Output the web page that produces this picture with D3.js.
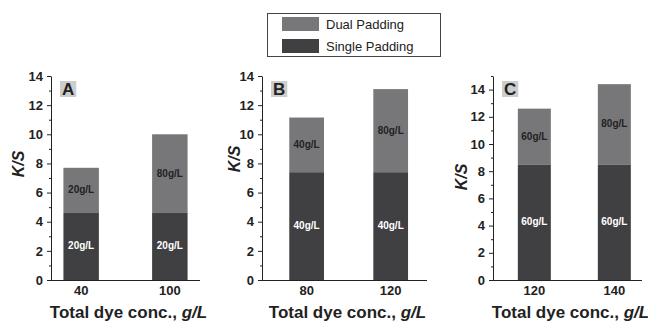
<!DOCTYPE html>
<html>
<head>
<meta charset="utf-8">
<script src="https://cdn.jsdelivr.net/npm/d3@7"></script>
<style>
  body { margin: 0; background: #fff; }
  svg { display: block; font-family: "Liberation Sans", Arial, sans-serif; }
</style>
</head>
<body>
<svg width="648" height="323"></svg>
<script>
// data
const panelNames = ["A", "B", "C"];
const categories = [["40", "100"], ["80", "120"], ["120", "140"]];
const singleValues = [[4.6, 4.6], [7.4, 7.4], [8.5, 8.5]];
const dualValues = [[3.1, 5.4], [3.75, 5.7], [4.1, 5.9]];
const singleLabels = [["20g/L", "20g/L"], ["40g/L", "40g/L"], ["60g/L", "60g/L"]];
const dualLabels = [["20g/L", "80g/L"], ["40g/L", "80g/L"], ["60g/L", "80g/L"]];
const yMax = [14, 14, 15];
const seriesNames = ["Dual Padding", "Single Padding"];

const colors = { dual: "#77777a", single: "#404043" };

// panel layout
const layout = [
  { left: 51, right: 200, pi: 0.6, po: 0.14, align: 0.5, ky: 164, kx: 19 },
  { left: 262, right: 427, pi: 0.587, po: 0.275, align: 0.59, ky: 159, kx: 235 },
  { left: 493, right: 642, pi: 0.5875, po: 0.225, align: 0.69, ky: 177, kx: 462 }
];
const plotTop = 76, plotBottom = 280;

const svg = d3.select("svg");

panelNames.forEach((name, i) => {
  const L = layout[i];
  const g = svg.append("g");

  const x = d3.scaleBand()
    .domain(categories[i])
    .range([L.left, L.right])
    .paddingInner(L.pi)
    .paddingOuter(L.po)
    .align(L.align);

  const y = d3.scaleLinear()
    .domain([0, yMax[i]])
    .range([plotBottom, plotTop]);

  const rows = categories[i].map((c, j) => ({
    cat: c,
    single: singleValues[i][j],
    dual: dualValues[i][j],
    sLabel: singleLabels[i][j],
    dLabel: dualLabels[i][j]
  }));

  // bars
  g.selectAll(".single")
    .data(rows)
    .join("rect")
    .attr("class", "single")
    .attr("x", d => x(d.cat))
    .attr("width", x.bandwidth())
    .attr("y", d => y(d.single))
    .attr("height", d => y(0) - y(d.single))
    .attr("fill", colors.single);

  g.selectAll(".dual")
    .data(rows)
    .join("rect")
    .attr("class", "dual")
    .attr("x", d => x(d.cat))
    .attr("width", x.bandwidth())
    .attr("y", d => y(d.single + d.dual))
    .attr("height", d => y(d.single) - y(d.single + d.dual))
    .attr("fill", colors.dual);

  // segment labels
  g.selectAll(".slab")
    .data(rows)
    .join("text")
    .attr("class", "slab")
    .attr("x", d => x(d.cat) + x.bandwidth() / 2)
    .attr("y", d => y(d.single / 2) + 3)
    .attr("text-anchor", "middle")
    .attr("font-size", 10)
    .attr("font-weight", "bold")
    .attr("fill", "#fff")
    .text(d => d.sLabel);

  g.selectAll(".dlab")
    .data(rows)
    .join("text")
    .attr("class", "dlab")
    .attr("x", d => x(d.cat) + x.bandwidth() / 2)
    .attr("y", d => y(d.single + d.dual / 2) + 3)
    .attr("text-anchor", "middle")
    .attr("font-size", 10)
    .attr("font-weight", "bold")
    .attr("fill", "#222")
    .text(d => d.dLabel);

  // y axis: minor ticks, then major
  const minor = d3.range(1, yMax[i] + 1, 2);
  const major = d3.range(0, yMax[i] + 1, 2);

  g.append("g")
    .attr("transform", `translate(${L.left},0)`)
    .call(d3.axisLeft(y).tickValues(minor).tickSize(2).tickFormat(""))
    .call(a => a.select(".domain").remove())
    .selectAll("line").attr("stroke", "#222");

  const ya = g.append("g")
    .attr("transform", `translate(${L.left},0)`)
    .call(d3.axisLeft(y).tickValues(major).tickSize(4).tickSizeOuter(0).tickPadding(4));
  ya.select(".domain").attr("stroke", "#222");
  ya.selectAll("line").attr("stroke", "#222");
  ya.selectAll("text")
    .attr("font-size", 13)
    .attr("font-weight", "bold")
    .attr("font-family", "Liberation Sans, Arial, sans-serif")
    .attr("fill", "#222");

  // x axis
  const xa = g.append("g")
    .attr("transform", `translate(0,${plotBottom})`)
    .call(d3.axisBottom(x).tickSize(0).tickPadding(6));
  xa.select(".domain")
    .attr("d", `M${L.left},0.5H${L.right}`)
    .attr("stroke", "#222");
  xa.selectAll("text")
    .attr("font-size", 13)
    .attr("font-weight", "bold")
    .attr("font-family", "Liberation Sans, Arial, sans-serif")
    .attr("fill", "#222");

  // axis titles
  const xt = g.append("text")
    .attr("x", (L.left + L.right) / 2 + 3)
    .attr("y", 318)
    .attr("text-anchor", "middle")
    .attr("font-size", 17)
    .attr("font-weight", "bold")
    .attr("fill", "#222");
  xt.append("tspan").text("Total dye conc., ");
  xt.append("tspan").attr("font-style", "italic").text("g/L");

  g.append("text")
    .attr("transform", `translate(${L.kx + 5},${L.ky}) rotate(-90)`)
    .attr("text-anchor", "middle")
    .attr("font-size", 16)
    .attr("font-weight", "bold")
    .attr("font-style", "italic")
    .attr("fill", "#222")
    .text("K/S");

  // panel letter
  const lx = L.left + 9;
  const lbl = g.append("text")
    .attr("x", lx + 2)
    .attr("y", 95)
    .attr("font-size", 17)
    .attr("font-weight", "bold")
    .attr("fill", "#222")
    .text(name);
  const bb = lbl.node().getBBox();
  g.insert("rect", "text.panel-letter")
    .attr("x", lx)
    .attr("y", 81)
    .attr("width", bb.width + 4)
    .attr("height", 16)
    .attr("fill", "#cdcdcd");
  lbl.raise();
});

// legend
const legend = svg.append("g");
legend.append("rect")
  .attr("x", 267.5).attr("y", 13.5)
  .attr("width", 173).attr("height", 43)
  .attr("fill", "#fff").attr("stroke", "#444");

const legendColors = [colors.dual, colors.single];
seriesNames.forEach((s, k) => {
  legend.append("rect")
    .attr("x", 282).attr("y", 17 + k * 22)
    .attr("width", 37).attr("height", 14)
    .attr("fill", legendColors[k]);
  legend.append("text")
    .attr("x", 326).attr("y", 29 + k * 22)
    .attr("font-size", 13)
    .attr("fill", "#222")
    .text(s);
});
</script>
</body>
</html>
